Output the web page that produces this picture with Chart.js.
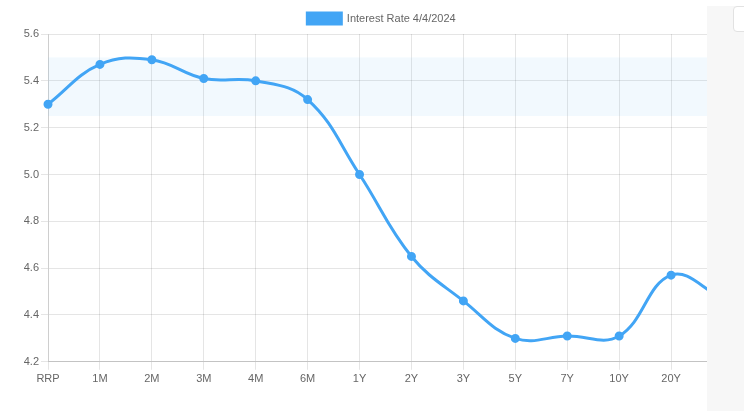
<!DOCTYPE html>
<html>
<head>
<meta charset="utf-8">
<script src="https://cdn.jsdelivr.net/npm/chart.js@4.4.1/dist/chart.umd.min.js"></script>
<style>
  html, body { margin: 0; padding: 0; background: #fff; overflow: hidden; }
  #wrap { position: absolute; left: 0; top: 0; width: 743px; height: 411px; }
  #side { position: absolute; left: 707px; top: 6px; width: 40px; height: 405px; background: #f7f7f7; }
  #sideBox { position: absolute; left: 733px; top: 6px; width: 20px; height: 26px; background: #fff;
             border: 1px solid #e2e2e2; border-radius: 4px; box-sizing: border-box; }
</style>
</head>
<body>
<div id="wrap"><canvas id="c"></canvas></div>
<div id="side"></div>
<div id="sideBox"></div>
<script>
// Treasury curve, 4/4/2024
const maturities = ['RRP', '1M', '2M', '3M', '4M', '6M', '1Y', '2Y', '3Y', '5Y', '7Y', '10Y', '20Y', '30Y'];
const rates = [5.30, 5.47, 5.49, 5.41, 5.40, 5.32, 5.00, 4.65, 4.46, 4.30, 4.31, 4.31, 4.57, 4.47];
const fedFundsRange = [5.25, 5.50];
const yTicks = [4.2, 4.4, 4.6, 4.8, 5.0, 5.2, 5.4, 5.6];

const lineColor = '#42a5f5';

// Shaded band for the fed funds target range
const bandPlugin = {
  id: 'fedBand',
  beforeDatasetsDraw(chart) {
    const { ctx, chartArea, scales } = chart;
    const yTop = scales.y.getPixelForValue(fedFundsRange[1]);
    const yBot = scales.y.getPixelForValue(fedFundsRange[0]);
    ctx.save();
    ctx.fillStyle = 'rgba(66,165,245,0.07)';
    ctx.fillRect(chartArea.left, yTop, chartArea.right - chartArea.left, yBot - yTop);
    ctx.restore();
  }
};

// Centre the legend on the full page width rather than the clipped canvas
const legendShift = {
  id: 'legendShift',
  afterLayout(chart) {
    if (chart.legend) {
      chart.legend.left += 20;
      chart.legend.right += 20;
    }
  }
};

Chart.defaults.font.family = '"Liberation Sans", Arial, Helvetica, sans-serif';
Chart.defaults.font.size = 11;
Chart.defaults.color = '#666';

new Chart(document.getElementById('c'), {
  type: 'line',
  data: {
    labels: maturities,
    datasets: [{
      label: 'Interest Rate 4/4/2024',
      data: rates,
      borderColor: lineColor,
      backgroundColor: lineColor,
      borderWidth: 3,
      pointRadius: 3,
      pointBackgroundColor: lineColor,
      pointBorderColor: lineColor,
      tension: 0.4,
      fill: false
    }]
  },
  options: {
    responsive: true,
    maintainAspectRatio: false,
    animation: false,
    layout: { padding: { left: 0, right: 20, top: 2, bottom: 22 } },
    plugins: {
      legend: {
        labels: { boxWidth: 34, boxHeight: 11, padding: 11, color: '#666' }
      },
      tooltip: { enabled: false }
    },
    scales: {
      x: {
        grid: { color: 'rgba(0,0,0,0.1)', tickLength: 8 },
        border: { color: 'rgba(0,0,0,0.15)' },
        ticks: { padding: 3, maxRotation: 0, autoSkip: false }
      },
      y: {
        min: 4.2,
        max: 5.6,
        afterBuildTicks(scale) { scale.ticks = yTicks.map(v => ({ value: v })); },
        afterFit(scale) { scale.width = 48; },
        grid: { color: 'rgba(0,0,0,0.1)', tickLength: 7 },
        border: { color: 'rgba(0,0,0,0.1)' },
        ticks: { padding: 2, callback: v => v.toFixed(1) }
      }
    }
  },
  plugins: [bandPlugin, legendShift]
});
</script>
</body>
</html>
